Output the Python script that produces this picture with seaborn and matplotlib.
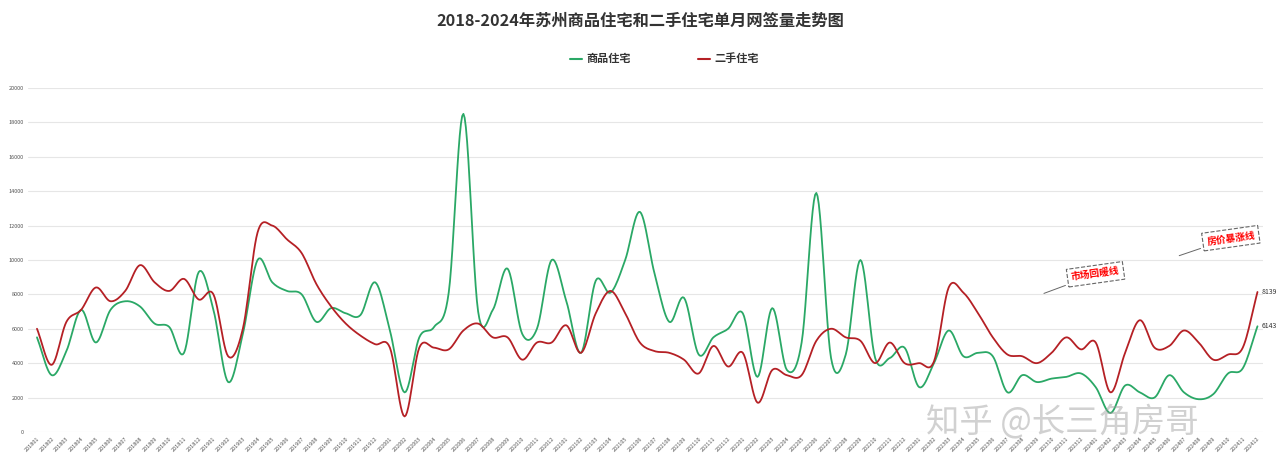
import numpy as np
import pandas as pd
import matplotlib
matplotlib.use("Agg")
import matplotlib.pyplot as plt
import seaborn as sns

months = [f"{y}{m:02d}" for y in range(2018, 2025) for m in range(1, 13)]
new_homes = [
    5500, 3300, 4700, 7100, 5200, 7100, 7600, 7300, 6300, 6100, 4600, 9300,
    7100, 2900, 5700, 10000, 8700, 8200, 8000, 6400, 7200, 6900, 6800, 8700,
    5900, 2300, 5500, 6100, 8100, 18500, 7000, 7100, 9500, 5700, 6000, 10000,
    7600, 4600, 8800, 8100, 10000, 12800, 9200, 6400, 7800, 4500, 5500, 6000,
    6900, 3200, 7200, 3600, 5200, 13900, 4300, 4500, 10000, 4300, 4300, 4900,
    2600, 4000, 5900, 4400, 4600, 4400, 2300, 3300, 2900, 3100, 3200, 3400,
    2600, 1100, 2700, 2300, 2000, 3300, 2300, 1900, 2200, 3400, 3700, 6143,
]
second_homes = [
    6000, 3900, 6400, 7100, 8400, 7600, 8200, 9700, 8700, 8200, 8900, 7700,
    8000, 4400, 6000, 11600, 12000, 11200, 10400, 8600, 7300, 6300, 5600, 5100,
    4900, 900, 4900, 4900, 4800, 5900, 6300, 5500, 5500, 4200, 5200, 5200,
    6200, 4600, 6900, 8200, 6900, 5200, 4700, 4600, 4200, 3400, 5000, 3800,
    4600, 1700, 3600, 3300, 3300, 5300, 6000, 5500, 5300, 4000, 5200, 4000,
    4000, 4100, 8400, 8100, 6900, 5500, 4500, 4400, 4000, 4600, 5500, 4800,
    5200, 2300, 4600, 6500, 4900, 5000, 5900, 5200, 4200, 4500, 4900, 8139,
]
series_names = ["商品住宅", "二手住宅"]
colors = ["#2aa866", "#b52025"]

def smooth(y, n=12):
    y = np.asarray(y, float)
    x = np.arange(len(y))
    m = np.gradient(y)
    xs, ys = [], []
    for i in range(len(y) - 1):
        t = np.linspace(0, 1, n, endpoint=False)
        h00 = 2*t**3 - 3*t**2 + 1; h10 = t**3 - 2*t**2 + t
        h01 = -2*t**3 + 3*t**2; h11 = t**3 - t**2
        xs.append(x[i] + t)
        ys.append(h00*y[i] + h10*m[i] + h01*y[i+1] + h11*m[i+1])
    xs.append([x[-1]]); ys.append([y[-1]])
    return np.concatenate(xs), np.concatenate(ys)

sns.set_style("white")
plt.rcParams['font.family'] = ['Noto Sans CJK SC', 'DejaVu Sans']
fig = plt.figure(figsize=(12.8, 4.71), dpi=100)
ax = fig.add_axes([0.022, 0.083, 0.965, 0.73])

frames = []
for name, vals in zip(series_names, [new_homes, second_homes]):
    xs, ys = smooth(vals)
    frames.append(pd.DataFrame({"x": xs, "y": ys, "s": name}))
df = pd.concat(frames)
sns.lineplot(data=df, x="x", y="y", hue="s", palette=colors, linewidth=1.3,
             ax=ax, legend=False, sort=False, estimator=None)

ax.set_xlim(-0.6, len(months) - 0.6)
ax.set_ylim(0, 20000)
ax.set_yticks(range(0, 20001, 2000))
ax.set_yticklabels([str(v) for v in range(0, 20001, 2000)], fontsize=4, color="#555")
ax.set_xticks(range(len(months)))
ax.set_xticklabels(months, rotation=45, ha="right", fontsize=4, color="#555", rotation_mode="anchor")
ax.tick_params(length=0, pad=3)
ax.grid(axis="y", color="#e6e6e6", linewidth=0.8)
for s in ax.spines.values():
    s.set_visible(False)
ax.set_xlabel(""); ax.set_ylabel("")

ax.text(len(months) - 0.7, new_homes[-1], f"{new_homes[-1]}", fontsize=5, va="center", color="#333")
ax.text(len(months) - 0.7, second_homes[-1], f"{second_homes[-1]}", fontsize=5, va="center", color="#333")

box = dict(boxstyle="square,pad=0.4", fc="white", ec="#666", ls="--", lw=0.8)
ax.annotate("市场回暖线", xy=(68.3, 8000), xytext=(70.3, 8800), fontsize=7, color="red",
            fontweight="bold", rotation=8, bbox=box,
            arrowprops=dict(arrowstyle="-", color="#666", lw=0.7))
ax.annotate("房价暴涨线", xy=(77.5, 10200), xytext=(79.5, 10900), fontsize=7, color="red",
            fontweight="bold", rotation=8, bbox=box,
            arrowprops=dict(arrowstyle="-", color="#666", lw=0.7))

fig.text(0.5, 0.955, "2018-2024年苏州商品住宅和二手住宅单月网签量走势图", ha="center", va="center",
         fontsize=11.7, fontweight="bold", color="#333")
for xpos, name, c in [(0.445, series_names[0], colors[0]), (0.545, series_names[1], colors[1])]:
    fig.add_artist(plt.Line2D([xpos, xpos + 0.01], [0.875, 0.875], color=c, lw=1.5, transform=fig.transFigure))
    fig.text(xpos + 0.013, 0.875, name, fontsize=8, fontweight="bold", va="center", color="#333")

fig.text(0.83, 0.105, "知乎 @长三角房哥", fontsize=24, color="#999", alpha=0.45, ha="center", va="center")

fig.savefig("out.png", dpi=100, facecolor="white")
